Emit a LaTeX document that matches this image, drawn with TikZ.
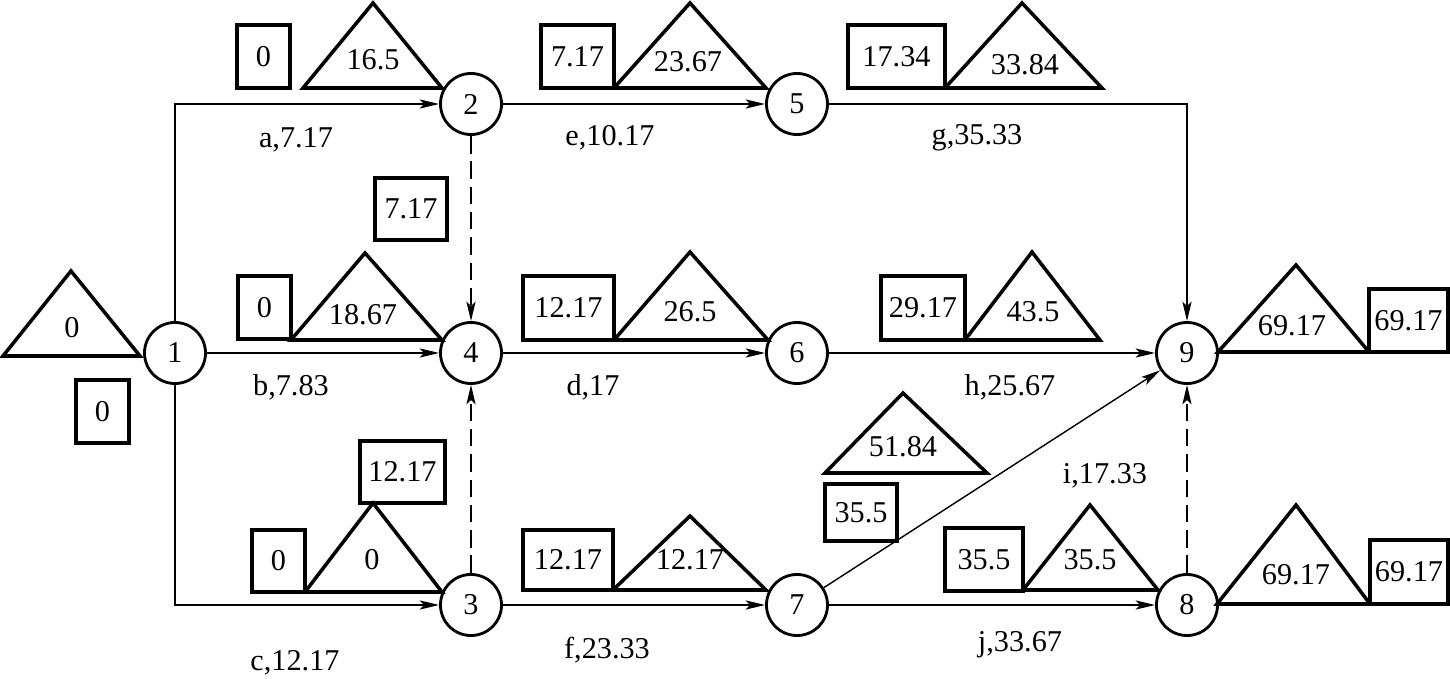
\documentclass[tikz,border=0pt]{standalone}
\usepackage{fontspec}
\setmainfont{Liberation Serif}
\usetikzlibrary{arrows.meta,positioning}
\tikzset{%
	event/.style = {draw, circle, line width=0.8pt, minimum size=0.61cm, inner sep=0pt}, % node
	box/.style   = {draw, rectangle, line width=1pt, minimum height=0.63cm, inner sep=0pt},
	tri/.style   = {line width=1pt, line join=miter},
	lbl/.style   = {inner sep=0pt},
	act/.style   = {line width=0.4pt, -{Stealth[length=5.5pt,width=2.6pt,inset=1.2pt]}},
	dummy/.style = {act, dash pattern=on 5pt off 2.2pt}, % virtual activity
}

\begin{document}
\begin{tikzpicture}[x=0.01cm,y=-0.01cm,font=\fontsize{8.6}{10}\selectfont]
	\useasboundingbox (0,0) rectangle (1450,679);
	% events
	\node [event] (n1) at (175,353) {1};
	\node [event] (n2) at (471,104) {2};
	\node [event] (n4) at (471,353) {4};
	\node [event] (n3) at (471,605) {3};
	\node [event] (n5) at (797,104) {5};
	\node [event] (n6) at (797,353) {6};
	\node [event] (n7) at (797,605) {7};
	\node [event] (n9) at (1187,353) {9};
	\node [event] (n8) at (1187,605) {8};

	% activities
	\draw[act] (n1) |- (n2);
	\draw[act] (n1) -- (n4);
	\draw[act] (n1) |- (n3);
	\draw[act] (n2) -- (n5);
	\draw[dummy] (n2) -- (n4);
	\draw[dummy] (n3) -- (n4);
	\draw[act] (n4) -- (n6);
	\draw[act] (n3) -- (n7);
	\draw[act] (n5) -| (n9);
	\draw[act] (n6) -- (n9);
	\draw[act] (n7) -- (n9);
	\draw[act] (n7) -- (n8);
	\draw[dummy] (n8) -- (n9);

	\node [lbl] (la) at (296,140) {a,7.17};
	\node [lbl] (le) at (610,138) {e,10.17};
	\node [lbl] (lg) at (977,138) {g,35.33};
	\node [lbl] (lb) at (291,387) {b,7.83};
	\node [lbl] (ld) at (593,387) {d,17};
	\node [lbl] (lh) at (1010,387) {h,25.67};
	\node [lbl] (li) at (1105,476) {i,17.33};
	\node [lbl] (lc) at (295,663) {c,12.17};
	\node [lbl] (lf) at (607,650) {f,23.33};
	\node [lbl] (lj) at (1020,645) {j,33.67};

	% time parameters, top row
	\node [box, minimum width=0.53cm] (ba) at (263.5,56.5) {0};
	\draw[tri] (303,88) -- (373,3) -- (442,88) -- cycle;
	\node [lbl] (ta) at (373,60) {16.5};
	\node [box, minimum width=0.73cm] (be) at (577.5,56.5) {7.17};
	\draw[tri] (614,88) -- (690,3) -- (766,88) -- cycle;
	\node [lbl] (te) at (688,62) {23.67};
	\node [box, minimum width=0.97cm] (bg) at (896.5,56.5) {17.34};
	\draw[tri] (945,88) -- (1022,3) -- (1102,88) -- cycle;
	\node [lbl] (tg) at (1025,65) {33.84};
	\node [box, minimum width=0.72cm, minimum height=0.62cm] (b24) at (411,209) {7.17};

	% middle row
	\draw[tri] (3,356) -- (71,271) -- (140,356) -- cycle;
	\node [lbl] (t1) at (72,328) {0};
	\node [box, minimum width=0.53cm] (b1) at (102.5,411.5) {0};
	\node [box, minimum width=0.53cm] (bb) at (264.5,307.5) {0};
	\draw[tri] (291,340) -- (365,253) -- (442,340) -- cycle;
	\node [lbl] (tb) at (363,315) {18.67};
	\node [box, minimum width=0.91cm, minimum height=0.64cm] (bd) at (568.5,308) {12.17};
	\draw[tri] (614,340) -- (690,252) -- (768,340) -- cycle;
	\node [lbl] (td) at (690,312) {26.5};
	\node [box, minimum width=0.84cm, minimum height=0.64cm] (bh) at (923,308) {29.17};
	\draw[tri] (965,340) -- (1032,252) -- (1100,340) -- cycle;
	\node [lbl] (th) at (1033,312) {43.5};
	\draw[tri] (1218,352) -- (1296,265) -- (1369,352) -- cycle;
	\node [lbl] (t9) at (1292,326) {69.17};
	\node [box, minimum width=0.79cm] (b9) at (1408.5,320.5) {69.17};

	% bottom row
	\draw[tri] (825,473) -- (903,393) -- (987,473) -- cycle;
	\node [lbl] (ti) at (903,447) {51.84};
	\node [box, minimum width=0.72cm, minimum height=0.57cm] (bi) at (861,512.5) {35.5};
	\node [box, minimum width=0.85cm, minimum height=0.62cm] (b34) at (402.5,472) {12.17};
	\node [box, minimum width=0.53cm, minimum height=0.62cm] (bc) at (278.5,561) {0};
	\draw[tri] (305,592) -- (373,503) -- (442,592) -- cycle;
	\node [lbl] (tc) at (372,560) {0};
	\node [box, minimum width=0.90cm, minimum height=0.60cm] (bf) at (568,560) {12.17};
	\draw[tri] (613,590) -- (690,516) -- (766,590) -- cycle;
	\node [lbl] (tf) at (690,560) {12.17};
	\node [box, minimum width=0.78cm] (bj) at (984,559.5) {35.5};
	\draw[tri] (1023,590) -- (1090,505) -- (1158,590) -- cycle;
	\node [lbl] (tj) at (1090,560) {35.5};
	\draw[tri] (1217,604) -- (1296,505) -- (1370,604) -- cycle;
	\node [lbl] (t8) at (1296,575) {69.17};
	\node [box, minimum width=0.78cm, minimum height=0.64cm] (b8) at (1409,572) {69.17};
\end{tikzpicture}
\end{document}
